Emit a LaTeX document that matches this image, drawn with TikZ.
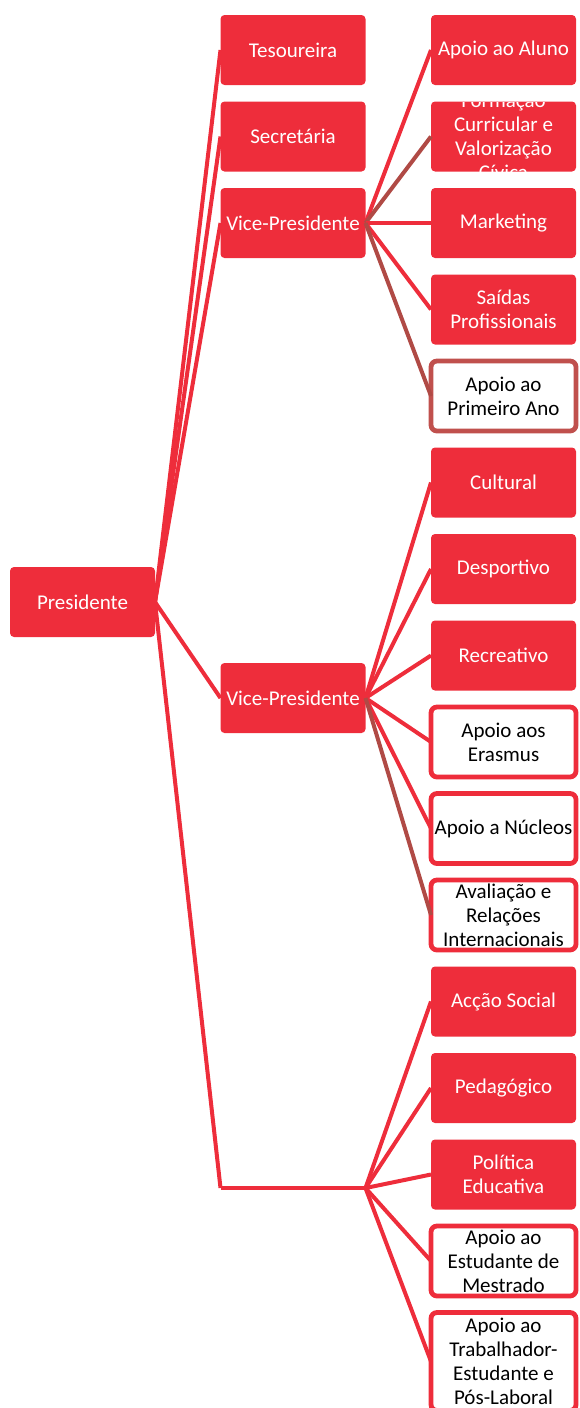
\documentclass[tikz,border=0pt]{standalone}
\usepackage{fontspec}
\setmainfont{Carlito}
\usepackage{tikz}
\usetikzlibrary{positioning}
\definecolor{orgred}{HTML}{EE2D3B}
\definecolor{orgbrown}{HTML}{C0504D}
\definecolor{orgdark}{HTML}{B04A45}
\tikzstyle{box} = [rectangle, rounded corners=4pt, minimum width=145pt, minimum height=70pt,
    inner sep=2pt, outer sep=0pt, align=center, font=\fontsize{21}{24}\selectfont]
\tikzstyle{redbox} = [box, fill=orgred, text=white]
\tikzstyle{openbox} = [box, rounded corners=6pt, fill=white, draw=orgred, line width=4.8pt, text=black]
\tikzstyle{line} = [draw, orgred, line width=4pt]
\tikzstyle{darkline} = [draw, orgdark, line width=4pt]

\begin{document}
\begin{tikzpicture}[x=1pt, y=-1pt, node distance=16.5pt]
      \useasboundingbox (0,0) rectangle (579,1408);
      % top
      \node [redbox] (presidente) at (82.5,602) {Presidente};
      % second level
      \node [redbox] (tesoureira) at (293,50) {Tesoureira};
      \node [redbox, below=of tesoureira] (secretaria) {Secretária};
      \node [redbox, below=of secretaria] (vice-a) {Vice-Presidente};
      \node [redbox] (vice-b) at (293,698) {Vice-Presidente};
      \node [box] (vazio) at (293,1188) {};
      % third level
      \node [redbox] (aluno) at (503.5,50) {Apoio ao Aluno};
      \node [redbox, below=of aluno] (formacao) {};
      \node [redbox, below=of formacao] (marketing) {Marketing};
      \node [redbox, below=of marketing] (saidas) {Saídas\\Profissionais};
      \node [openbox, draw=orgbrown, below=of saidas] (primeiro) {Apoio ao\\Primeiro Ano};
      \node [redbox, below=of primeiro] (cultural) {Cultural};
      \node [redbox, below=of cultural] (desportivo) {Desportivo};
      \node [redbox, below=of desportivo] (recreativo) {Recreativo};
      \node [openbox, below=of recreativo] (erasmus) {Apoio aos\\Erasmus};
      \node [openbox, below=of erasmus] (nucleos) {Apoio a Núcleos};
      \node [openbox, below=of nucleos] (avaliacao) {Avaliação e\\Relações\\Internacionais};
      \node [redbox, below=of avaliacao] (social) {Acção Social};
      \node [redbox, below=of social] (pedagogico) {Pedagógico};
      \node [redbox, below=of pedagogico] (politica) {Política\\Educativa};
      \node [openbox, below=of politica] (mestrado) {Apoio ao\\Estudante de\\Mestrado};
      \node [openbox, minimum height=98pt, below=of mestrado] (trabalhador) {Apoio ao\\Trabalhador-\\Estudante e\\Pós-Laboral};
      % text that does not fit its box
      \begin{scope}
        \clip [rounded corners=4pt] (formacao.south west) rectangle (formacao.north east);
        \node [box, text=white] at (formacao) {Formação\\Curricular e\\Valorização\\Cívica};
      \end{scope}
      % Draw edges
      \path [line] (presidente.east) -- (tesoureira.west);
      \path [line] (presidente.east) -- (secretaria.west);
      \path [line] (presidente.east) -- (vice-a.west);
      \path [line] (presidente.east) -- (vice-b.west);
      \path [line] (presidente.east) -- (vazio.west);
      \path [line] (vazio.west) -- (vazio.east);
      \path [line] (vice-a.east) -- (aluno.west);
      \path [darkline] (vice-a.east) -- (formacao.west);
      \path [line] (vice-a.east) -- (marketing.west);
      \path [line] (vice-a.east) -- (saidas.west);
      \path [darkline] (vice-a.east) -- (primeiro.west);
      \path [line] (vice-b.east) -- (cultural.west);
      \path [line] (vice-b.east) -- (desportivo.west);
      \path [line] (vice-b.east) -- (recreativo.west);
      \path [line] (vice-b.east) -- (erasmus.west);
      \path [line] (vice-b.east) -- (nucleos.west);
      \path [darkline] (vice-b.east) -- (avaliacao.west);
      \path [line] (vazio.east) -- (social.west);
      \path [line] (vazio.east) -- (pedagogico.west);
      \path [line] (vazio.east) -- (politica.west);
      \path [line] (vazio.east) -- (mestrado.west);
      \path [line] (vazio.east) -- (trabalhador.west);
\end{tikzpicture}
\end{document}
